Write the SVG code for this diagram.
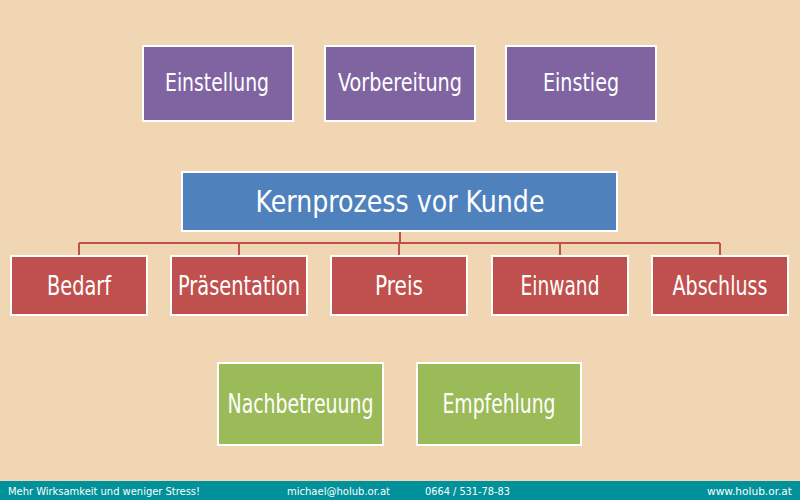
<svg xmlns="http://www.w3.org/2000/svg" width="800" height="500" viewBox="0 0 800 500">
<style>
.box{stroke:#ffffff;stroke-width:2}
.p{fill:#8064a2}.b{fill:#4f81bd}.r{fill:#c0504d}.g{fill:#9bbb59}
.t{font-family:"Liberation Sans Narrow","DejaVu Sans Condensed","Liberation Sans",sans-serif;fill:#ffffff;text-anchor:middle}
.f{font-family:"Liberation Sans Narrow","DejaVu Sans Condensed","Liberation Sans",sans-serif;fill:#ffffff;font-size:11px}
.c{stroke:#c0504d;stroke-width:2;fill:none}
</style>
<rect width="800" height="500" fill="#f0d6b2"/>
<g id="connectors">
<path class="c" d="M400 231V243M79 243H720M79 243V256M239 243V256M399 243V256M560 243V256M720 243V256"/>
</g>
<g id="einstellung"><rect class="box p" x="143" y="46" width="150" height="75"/><text class="t" x="217" y="91" font-size="25" textLength="104" lengthAdjust="spacingAndGlyphs">Einstellung</text></g>
<g id="vorbereitung"><rect class="box p" x="325" y="46" width="150" height="75"/><text class="t" x="400" y="91" font-size="25" textLength="124" lengthAdjust="spacingAndGlyphs">Vorbereitung</text></g>
<g id="einstieg"><rect class="box p" x="506" y="46" width="150" height="75"/><text class="t" x="581" y="91" font-size="25" textLength="76" lengthAdjust="spacingAndGlyphs">Einstieg</text></g>
<g id="kernprozess"><rect class="box b" x="182" y="172" width="435" height="59"/><text class="t" x="400" y="212" font-size="31" textLength="289" lengthAdjust="spacingAndGlyphs">Kernprozess vor Kunde</text></g>
<g id="bedarf"><rect class="box r" x="11" y="256" width="136" height="59"/><text class="t" x="79" y="295" font-size="27" textLength="64" lengthAdjust="spacingAndGlyphs">Bedarf</text></g>
<g id="praesentation"><rect class="box r" x="171" y="256" width="136" height="59"/><text class="t" x="239" y="295" font-size="27" textLength="122" lengthAdjust="spacingAndGlyphs">Präsentation</text></g>
<g id="preis"><rect class="box r" x="331" y="256" width="136" height="59"/><text class="t" x="399" y="295" font-size="27" textLength="48" lengthAdjust="spacingAndGlyphs">Preis</text></g>
<g id="einwand"><rect class="box r" x="492" y="256" width="136" height="59"/><text class="t" x="560" y="295" font-size="27" textLength="79" lengthAdjust="spacingAndGlyphs">Einwand</text></g>
<g id="abschluss"><rect class="box r" x="652" y="256" width="136" height="59"/><text class="t" x="720" y="295" font-size="27" textLength="95" lengthAdjust="spacingAndGlyphs">Abschluss</text></g>
<g id="nachbetreuung"><rect class="box g" x="218" y="363" width="165" height="82"/><text class="t" x="300.5" y="413" font-size="27" textLength="146" lengthAdjust="spacingAndGlyphs">Nachbetreuung</text></g>
<g id="empfehlung"><rect class="box g" x="417" y="363" width="164" height="82"/><text class="t" x="499" y="413" font-size="27" textLength="113" lengthAdjust="spacingAndGlyphs">Empfehlung</text></g>
<g id="footer">
<rect x="0" y="481" width="800" height="19" fill="#00919a"/>
<text class="f" x="8" y="495" textLength="192" lengthAdjust="spacingAndGlyphs">Mehr Wirksamkeit und weniger Stress!</text>
<text class="f" x="287" y="495" textLength="103" lengthAdjust="spacingAndGlyphs">michael@holub.or.at</text>
<text class="f" x="425" y="495" textLength="85" lengthAdjust="spacingAndGlyphs">0664 / 531-78-83</text>
<text class="f" x="707" y="495" textLength="85" lengthAdjust="spacingAndGlyphs">www.holub.or.at</text>
</g>
</svg>
